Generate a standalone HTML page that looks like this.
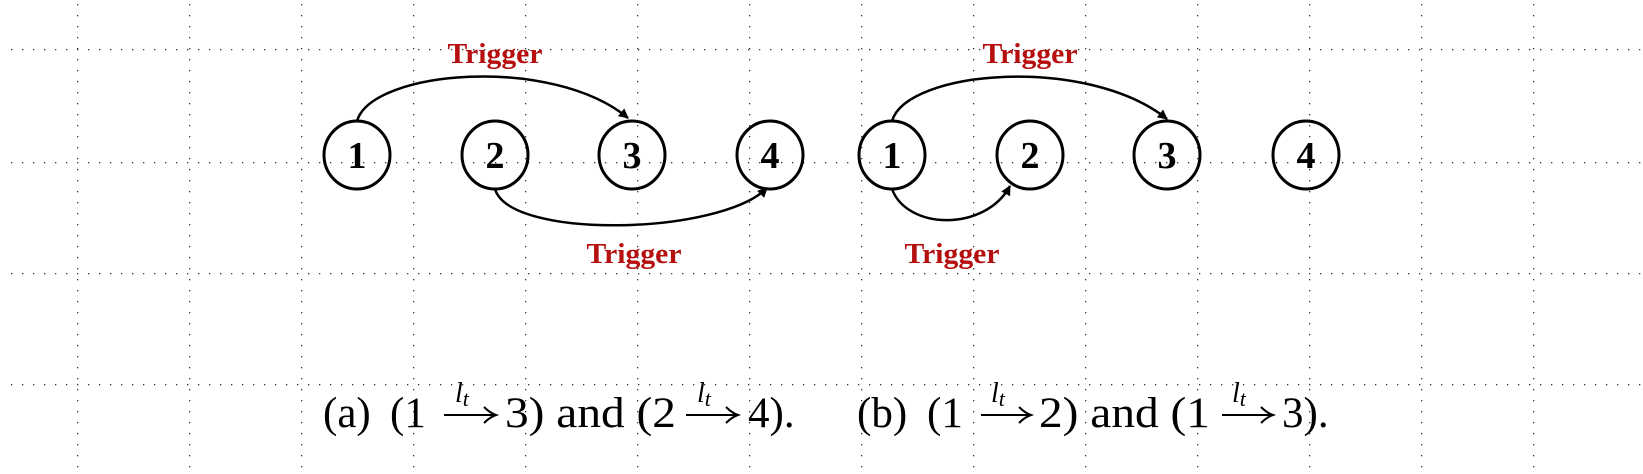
<!DOCTYPE html>
<html><head><meta charset="utf-8"><style>
html,body{margin:0;padding:0;background:#fff;}
svg{display:block;}
.node-label{font-family:"Liberation Serif",serif;font-weight:bold;font-size:38px;}
.trig{font-family:"Liberation Serif",serif;font-weight:bold;font-size:28px;fill:#b50f0f;}
.cap{font-family:"Liberation Serif",serif;font-size:43px;fill:#000;}
.lt{font-family:"Liberation Serif",serif;font-style:italic;font-size:28px;fill:#000;}
</style></head><body>
<svg id="fig" width="1643" height="474" viewBox="0 0 1643 474">
<defs><marker id="ah" markerWidth="10" markerHeight="10" refX="9" refY="5" orient="auto" markerUnits="userSpaceOnUse"><path d="M0,0 L10,5 L0,10 z" fill="#000"/></marker></defs>
<g id="grid"></g>
<g id="diag"></g>
<g>
<text class="cap" x="323" y="427">(a)</text>
<text class="cap" x="390" y="427">(1</text>
<line x1="444" y1="415" x2="494" y2="415" stroke="#000" stroke-width="2"/>
<path d="M484,407 Q490,413 496,415 Q490,417 484,423" fill="none" stroke="#000" stroke-width="2"/>
<text class="lt" x="455" y="402">l<tspan font-size="22" dy="4">t</tspan></text>
<text class="cap" x="505" y="427" textLength="171" lengthAdjust="spacingAndGlyphs">3) and (2</text>
<line x1="686" y1="415" x2="736" y2="415" stroke="#000" stroke-width="2"/>
<path d="M726,407 Q732,413 738,415 Q732,417 726,423" fill="none" stroke="#000" stroke-width="2"/>
<text class="lt" x="697" y="402">l<tspan font-size="22" dy="4">t</tspan></text>
<text class="cap" x="748" y="427">4).</text>
</g>
<g>
<text class="cap" x="857" y="427">(b)</text>
<text class="cap" x="927" y="427">(1</text>
<line x1="981" y1="415" x2="1029" y2="415" stroke="#000" stroke-width="2"/>
<path d="M1019,407 Q1025,413 1031,415 Q1025,417 1019,423" fill="none" stroke="#000" stroke-width="2"/>
<text class="lt" x="991" y="402">l<tspan font-size="22" dy="4">t</tspan></text>
<text class="cap" x="1039" y="427" textLength="171" lengthAdjust="spacingAndGlyphs">2) and (1</text>
<line x1="1222" y1="415" x2="1271" y2="415" stroke="#000" stroke-width="2"/>
<path d="M1261,407 Q1267,413 1273,415 Q1267,417 1261,423" fill="none" stroke="#000" stroke-width="2"/>
<text class="lt" x="1232" y="402">l<tspan font-size="22" dy="4">t</tspan></text>
<text class="cap" x="1282" y="427">3).</text>
</g>
</svg>
<script>
const NS='http://www.w3.org/2000/svg';
const gridXs=[77,189,301,413,525,637,749,861,973,1085,1197,1309,1421,1533];
const gridYs=[49,162,273,384];
const nodeLabels=['1','2','3','4'];
const panelAX=[357,495,632,770];
const panelBX=[892,1030,1167,1306];
const nodeY=155;
const g=document.getElementById('grid');
function dot(x,y){const r=document.createElementNS(NS,'rect');r.setAttribute('x',x);r.setAttribute('y',y);r.setAttribute('width',1.3);r.setAttribute('height',1.3);r.setAttribute('fill','#333');


g.appendChild(r);}
gridXs.forEach(x=>{for(let y=4;y<474;y+=11)dot(x,y);});
gridYs.forEach(y=>{for(let x=11;x<1643;x+=11)dot(x,y);});
const d=document.getElementById('diag');
function node(x,lab,pn){const c=document.createElementNS(NS,'ellipse');c.setAttribute('cx',x);c.setAttribute('cy',nodeY);c.setAttribute('rx',33);c.setAttribute('ry',34);c.setAttribute('fill','none');c.setAttribute('stroke','#000');c.setAttribute('stroke-width',3);


d.appendChild(c);
const t=document.createElementNS(NS,'text');t.setAttribute('x',x);t.setAttribute('y',nodeY+13);t.setAttribute('text-anchor','middle');t.setAttribute('class','node-label');t.textContent=lab;


d.appendChild(t);}
panelAX.forEach((x,i)=>node(x,nodeLabels[i],'a'));
panelBX.forEach((x,i)=>node(x,nodeLabels[i],'b'));
function path(dd,name){const p=document.createElementNS(NS,'path');p.setAttribute('d',dd);p.setAttribute('fill','none');p.setAttribute('stroke','#000');p.setAttribute('stroke-width',2.5);p.setAttribute('marker-end','url(#ah)');


d.appendChild(p);}
const A=panelAX,B=panelBX;
path(`M${A[0]},121 C${A[0]+15},70 ${A[2]-80},55 ${A[2]-4},118`,'arc-a-1-to-3');
path(`M${A[1]},189 C${A[1]+15},240 ${A[3]-50},235 ${A[3]-3},188`,'arc-a-2-to-4');
path(`M${B[0]},121 C${B[0]+15},70 ${B[2]-80},55 ${B[2]},119`,'arc-b-1-to-3');
path(`M${B[0]},189 C${B[0]+15},230 ${B[1]-45},232 ${B[1]-20},186`,'arc-b-1-to-2');
function trig(x,y,name){const t=document.createElementNS(NS,'text');t.setAttribute('x',x);t.setAttribute('y',y);t.setAttribute('text-anchor','middle');t.setAttribute('class','trig');t.setAttribute('textLength',95);t.setAttribute('lengthAdjust','spacingAndGlyphs');t.textContent='Trigger';


d.appendChild(t);}
trig(495,63,'trigger-label-a-top');
trig(634,263,'trigger-label-a-bottom');
trig(1030,63,'trigger-label-b-top');
trig(952,263,'trigger-label-b-bottom');
</script>
</body></html>
